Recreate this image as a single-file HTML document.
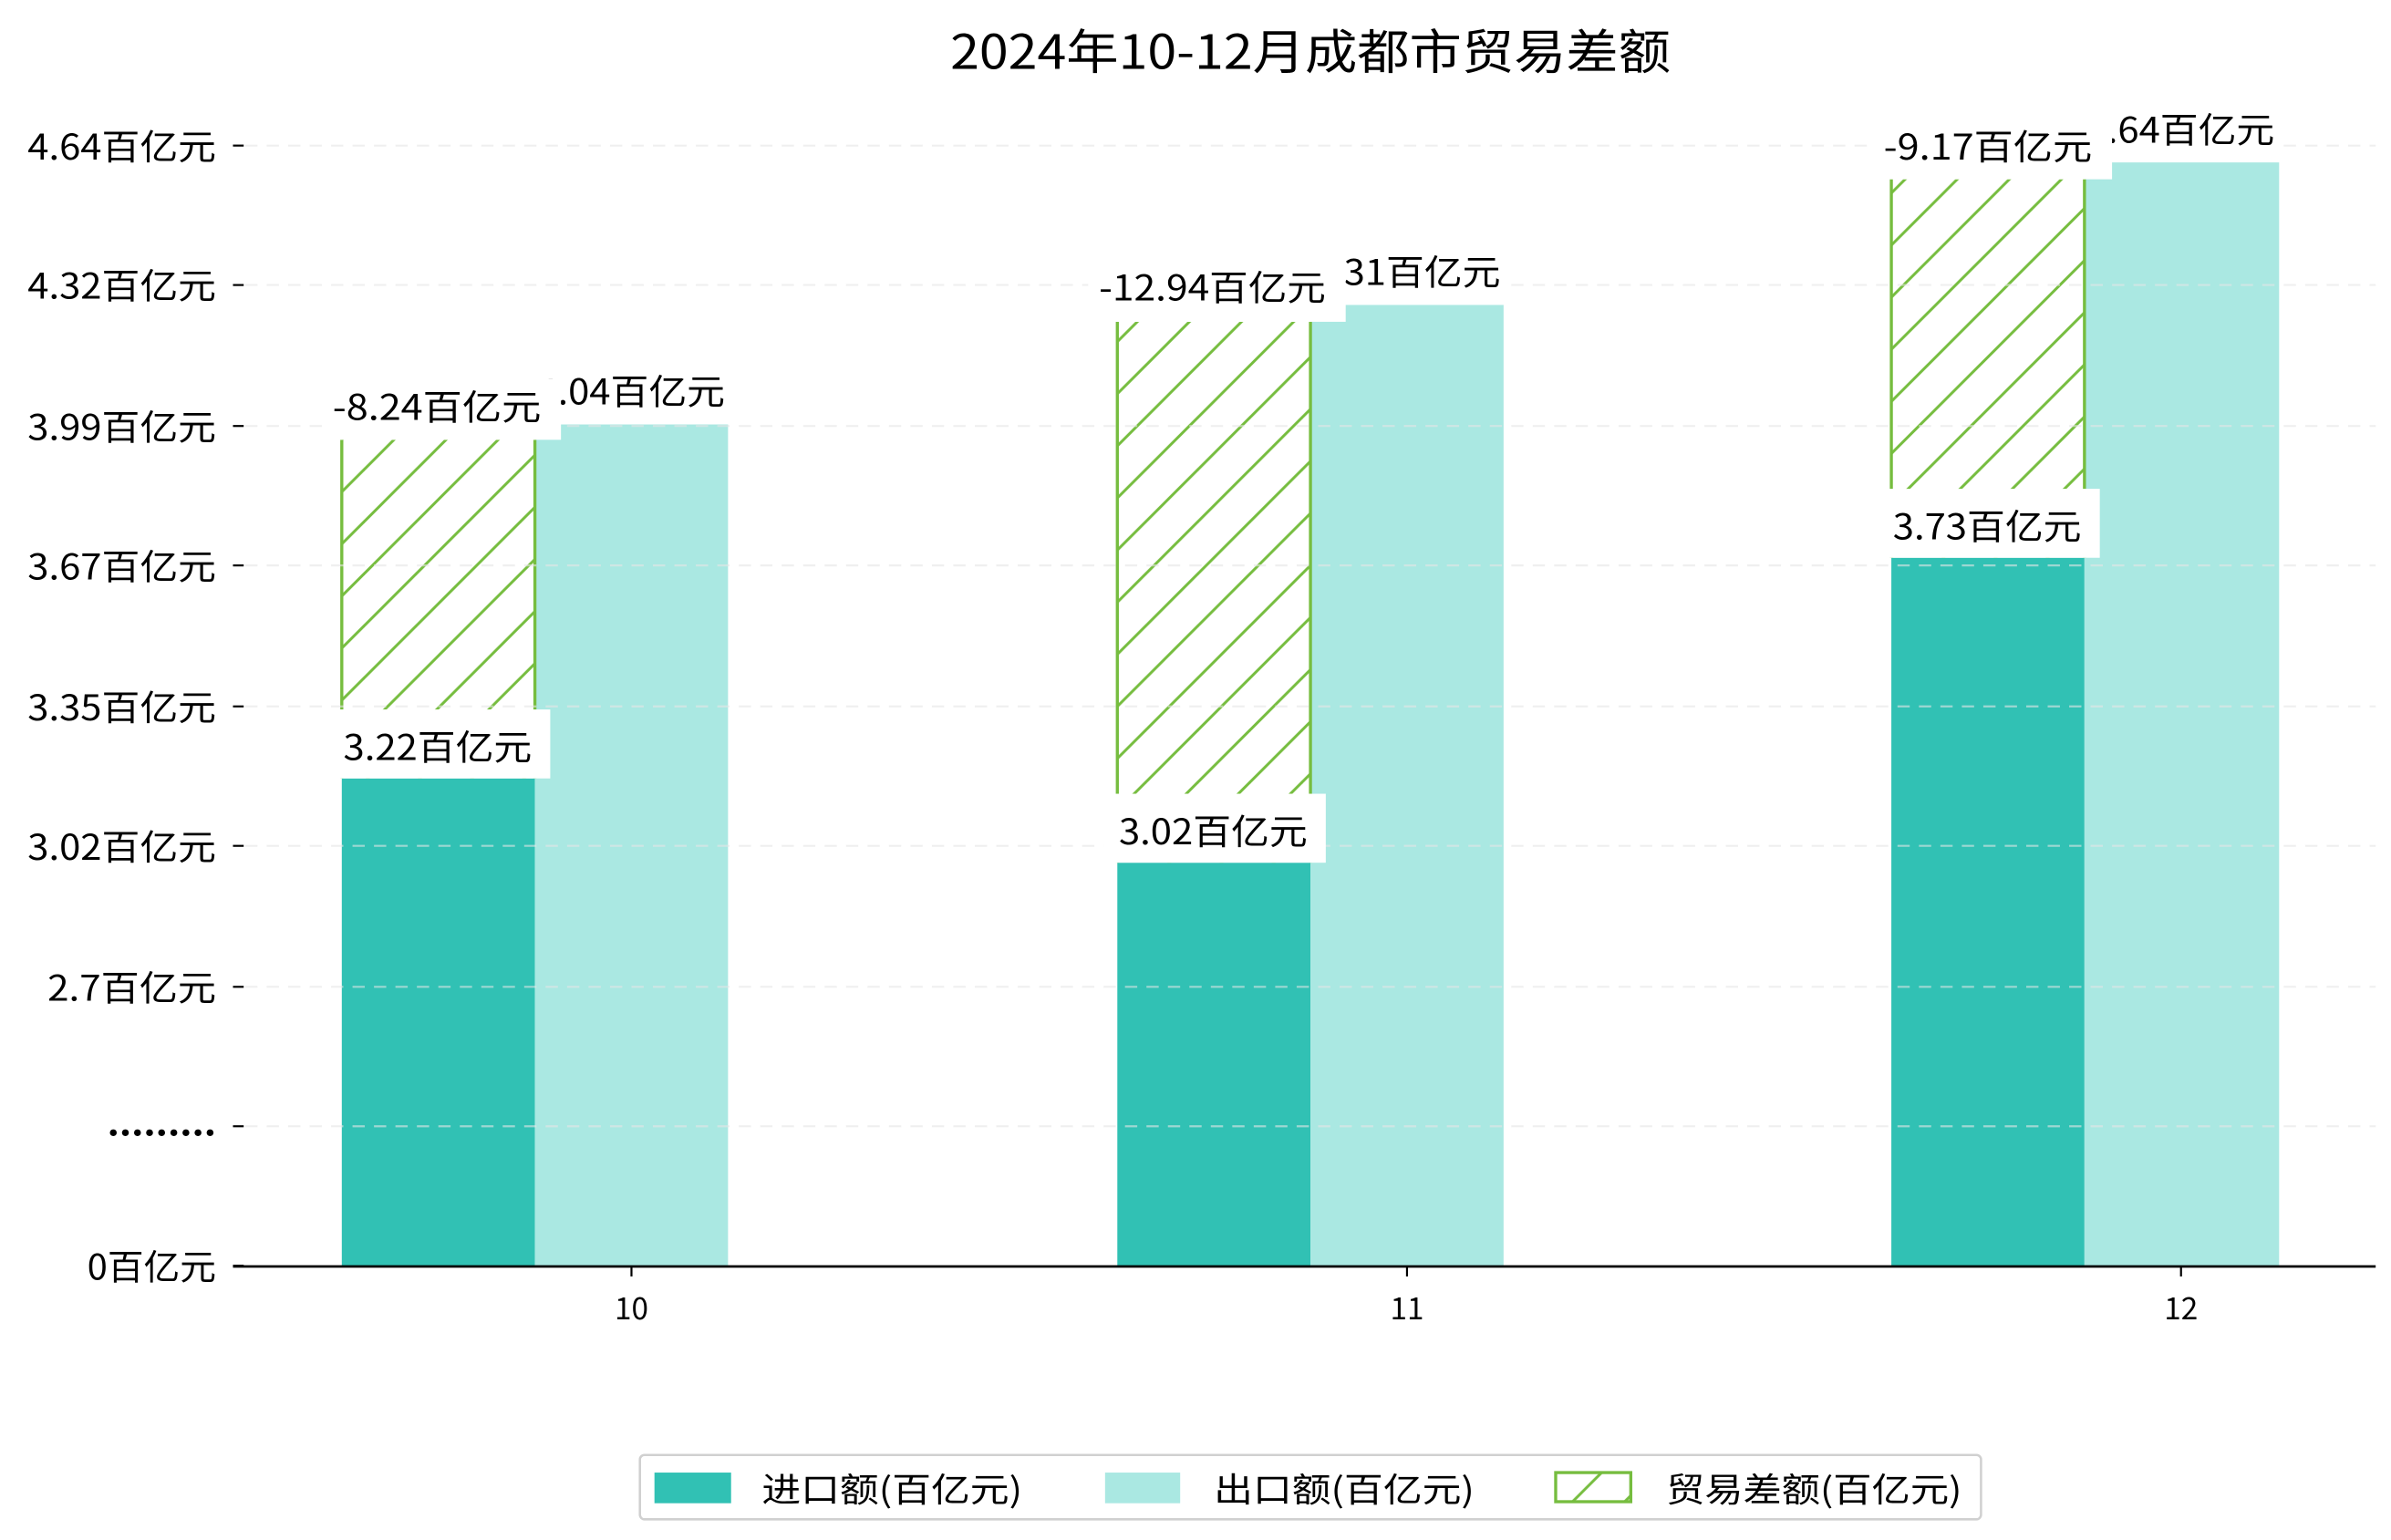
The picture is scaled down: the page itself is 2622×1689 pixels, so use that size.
<!DOCTYPE html>
<html><head><meta charset="utf-8"><style>
html,body{margin:0;padding:0;background:#fff;}
svg{display:block;}
text{font-family:"WenQuanYi Zen Hei","Noto Sans CJK SC",sans-serif;fill:#000;}
</style></head><body>
<svg width="2622" height="1689" viewBox="0 0 1560 1005" preserveAspectRatio="none" xmlns="http://www.w3.org/2000/svg">
<defs>
<pattern id="h" patternUnits="userSpaceOnUse" width="34" height="34">
<line x1="-4" y1="38" x2="38" y2="-4" stroke="#76bd3f" stroke-width="1.8"/>
<line x1="-21" y1="21" x2="21" y2="-21" stroke="#76bd3f" stroke-width="1.8"/>
<line x1="13" y1="55" x2="55" y2="13" stroke="#76bd3f" stroke-width="1.8"/>
</pattern>
</defs>
<rect width="1560" height="1005" fill="#fff"/>
<text x="620" y="45" font-size="31" textLength="470" lengthAdjust="spacingAndGlyphs">2024年10-12月成都市贸易差额</text>

<g>
<rect x="223" y="508" width="126" height="318" fill="#31c1b4"/>
<rect x="349" y="276" width="126" height="550" fill="#aae8e2"/>
<rect x="223" y="287" width="126" height="221" fill="url(#h)"/>
<line x1="223" y1="287" x2="223" y2="508" stroke="#76bd3f" stroke-width="2"/>
<line x1="349" y1="287" x2="349" y2="508" stroke="#76bd3f" stroke-width="2"/>

<rect x="729" y="563" width="126" height="263" fill="#31c1b4"/>
<rect x="855" y="198" width="126" height="628" fill="#aae8e2"/>
<rect x="729" y="210" width="126" height="353" fill="url(#h)"/>
<line x1="729" y1="210" x2="729" y2="563" stroke="#76bd3f" stroke-width="2"/>
<line x1="855" y1="210" x2="855" y2="563" stroke="#76bd3f" stroke-width="2"/>

<rect x="1234" y="364" width="126" height="462" fill="#31c1b4"/>
<rect x="1360" y="105" width="127" height="721" fill="#aae8e2"/>
<rect x="1234" y="117" width="126" height="247" fill="url(#h)"/>
<line x1="1234" y1="117" x2="1234" y2="364" stroke="#76bd3f" stroke-width="2"/>
<line x1="1360" y1="117" x2="1360" y2="364" stroke="#76bd3f" stroke-width="2"/>
</g>

<g stroke="#e6e6e6" stroke-width="1.3" stroke-dasharray="8,6" opacity="0.6">
<line x1="160" y1="95" x2="1550" y2="95"/>
<line x1="160" y1="186" x2="1550" y2="186"/>
<line x1="160" y1="278" x2="1550" y2="278"/>
<line x1="160" y1="369" x2="1550" y2="369"/>
<line x1="160" y1="461" x2="1550" y2="461"/>
<line x1="160" y1="552" x2="1550" y2="552"/>
<line x1="160" y1="644" x2="1550" y2="644"/>
<line x1="160" y1="735" x2="1550" y2="735"/>
</g>

<g stroke="#000" stroke-width="1.3">
<line x1="152" y1="95" x2="159" y2="95"/>
<line x1="152" y1="186" x2="159" y2="186"/>
<line x1="152" y1="278" x2="159" y2="278"/>
<line x1="152" y1="369" x2="159" y2="369"/>
<line x1="152" y1="461" x2="159" y2="461"/>
<line x1="152" y1="552" x2="159" y2="552"/>
<line x1="152" y1="644" x2="159" y2="644"/>
<line x1="152" y1="735" x2="159" y2="735"/>
<line x1="152" y1="826" x2="159" y2="826"/>
<line x1="412" y1="826" x2="412" y2="833"/>
<line x1="918" y1="826" x2="918" y2="833"/>
<line x1="1423" y1="826" x2="1423" y2="833"/>
</g>
<line x1="152" y1="826.5" x2="1550" y2="826.5" stroke="#000" stroke-width="1.6"/>

<g font-size="23" lengthAdjust="spacingAndGlyphs">
<text x="18" y="104" textLength="123" lengthAdjust="spacingAndGlyphs">4.64百亿元</text>
<text x="18" y="195" textLength="123" lengthAdjust="spacingAndGlyphs">4.32百亿元</text>
<text x="18" y="287" textLength="123" lengthAdjust="spacingAndGlyphs">3.99百亿元</text>
<text x="18" y="378" textLength="123" lengthAdjust="spacingAndGlyphs">3.67百亿元</text>
<text x="18" y="470" textLength="123" lengthAdjust="spacingAndGlyphs">3.35百亿元</text>
<text x="18" y="561" textLength="123" lengthAdjust="spacingAndGlyphs">3.02百亿元</text>
<text x="31" y="653" textLength="110" lengthAdjust="spacingAndGlyphs">2.7百亿元</text>
<text x="70" y="741" textLength="71" lengthAdjust="spacingAndGlyphs" font-weight="bold">.........</text>
<text x="57" y="835" textLength="84" lengthAdjust="spacingAndGlyphs">0百亿元</text>
</g>
<g font-size="20">
<text x="401" y="861" textLength="22" lengthAdjust="spacingAndGlyphs">10</text>
<text x="907" y="861" textLength="22" lengthAdjust="spacingAndGlyphs">11</text>
<text x="1412" y="861" textLength="22" lengthAdjust="spacingAndGlyphs">12</text>
</g>

<g font-size="23">
<rect x="346" y="237" width="132" height="40" fill="#fff"/>
<text x="350" y="264" textLength="123" lengthAdjust="spacingAndGlyphs">4.04百亿元</text>
<rect x="213" y="247" width="153" height="40" fill="#fff"/>
<text x="217" y="274" textLength="136" lengthAdjust="spacingAndGlyphs">-8.24百亿元</text>
<rect x="215" y="463" width="144" height="45" fill="#fff"/>
<text x="224" y="496" textLength="123" lengthAdjust="spacingAndGlyphs">3.22百亿元</text>

<rect x="852" y="159" width="132" height="40" fill="#fff"/>
<text x="856" y="186" textLength="123" lengthAdjust="spacingAndGlyphs">4.31百亿元</text>
<rect x="710" y="168" width="168" height="42" fill="#fff"/>
<text x="717" y="196" textLength="148" lengthAdjust="spacingAndGlyphs">-12.94百亿元</text>
<rect x="720" y="518" width="145" height="45" fill="#fff"/>
<text x="730" y="551" textLength="123" lengthAdjust="spacingAndGlyphs">3.02百亿元</text>

<rect x="1357" y="66" width="132" height="40" fill="#fff"/>
<text x="1361" y="93" textLength="123" lengthAdjust="spacingAndGlyphs">4.64百亿元</text>
<rect x="1222" y="76" width="156" height="41" fill="#fff"/>
<text x="1229" y="104" textLength="136" lengthAdjust="spacingAndGlyphs">-9.17百亿元</text>
<rect x="1226" y="319" width="144" height="45" fill="#fff"/>
<text x="1235" y="352" textLength="123" lengthAdjust="spacingAndGlyphs">3.73百亿元</text>
</g>

<rect x="417.5" y="949.5" width="875" height="42" rx="3" fill="#fff" stroke="#d0d0d0" stroke-width="1.5"/>
<rect x="427" y="961" width="50" height="20" fill="#31c1b4"/>
<rect x="721" y="961" width="49" height="20" fill="#aae8e2"/>
<rect x="1015" y="961" width="49" height="19" fill="url(#h)" stroke="#76bd3f" stroke-width="2"/>
<g font-size="22">
<text x="497" y="980" textLength="170" lengthAdjust="spacingAndGlyphs">进口额(百亿元)</text>
<text x="792" y="980" textLength="170" lengthAdjust="spacingAndGlyphs">出口额(百亿元)</text>
<text x="1087" y="980" textLength="193" lengthAdjust="spacingAndGlyphs">贸易差额(百亿元)</text>
</g>
</svg>
</body></html>
